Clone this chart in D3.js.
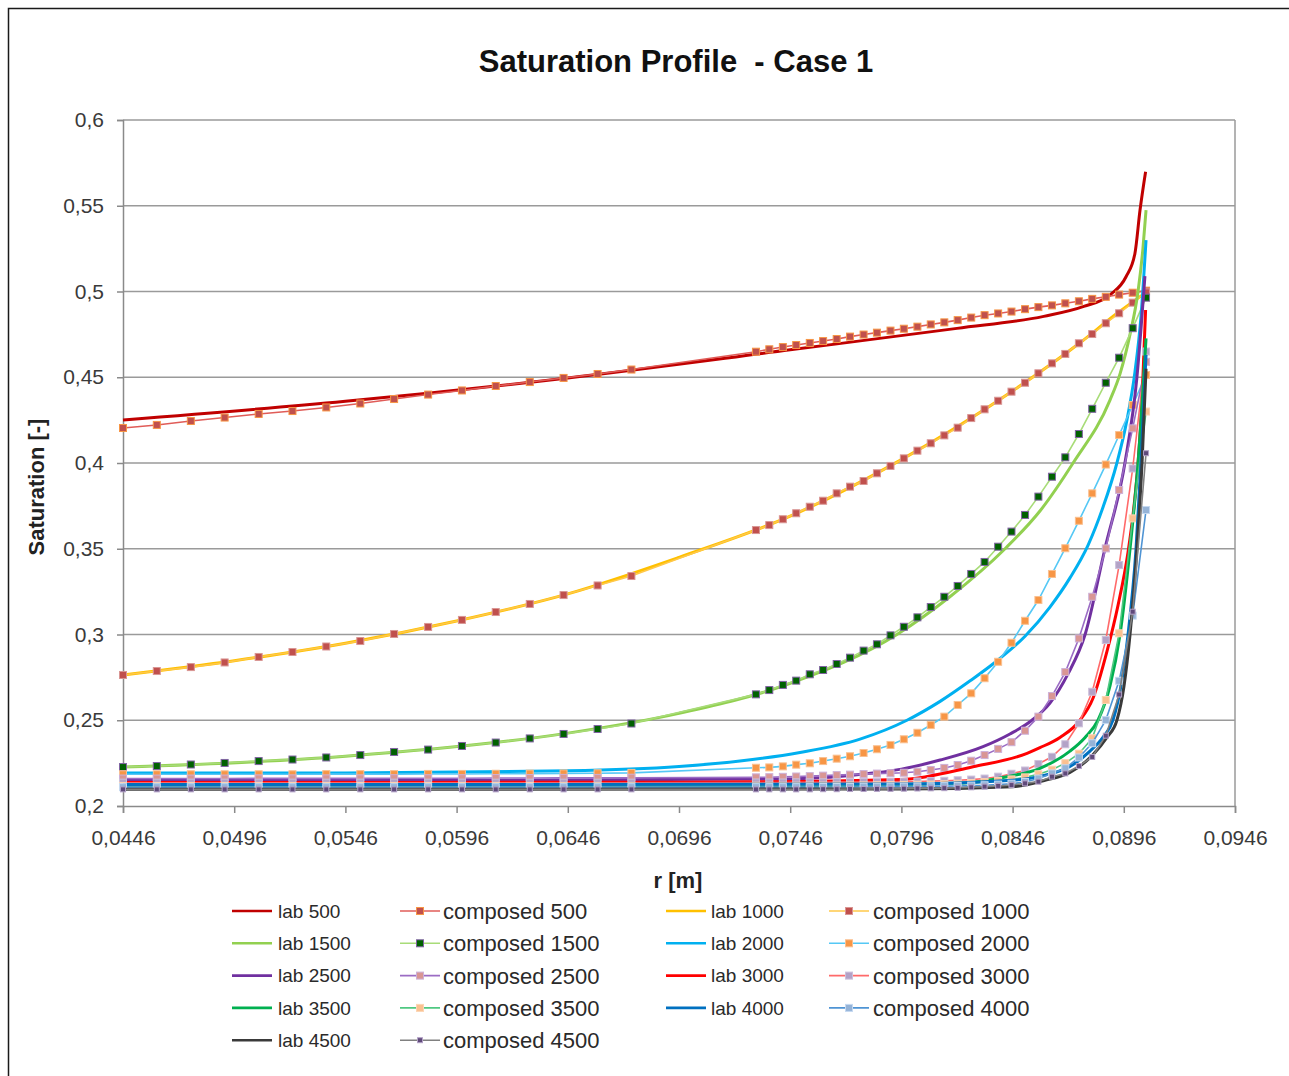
<!DOCTYPE html>
<html>
<head>
<meta charset="utf-8">
<script src="https://cdn.jsdelivr.net/npm/d3@7"></script>
<style>
body { margin: 0; background: #fff; }
svg text { font-family: "Liberation Sans", Arial, sans-serif; }
</style>
</head>
<body>
<div id="chart"></div>
<script>
// radius grid of the composed model (coarse part, then dense part near the wall)
const rCoarse = [0.04460, 0.04612, 0.04765, 0.04917, 0.05070, 0.05222, 0.05374, 0.05527,
    0.05679, 0.05832, 0.05984, 0.06136, 0.06289, 0.06441, 0.06594, 0.06746]
const rDense = [0.07306, 0.07366, 0.07427, 0.07487, 0.07548, 0.07608, 0.07669, 0.07729,
    0.07790, 0.07850, 0.07911, 0.07971, 0.08032, 0.08092, 0.08153, 0.08213, 0.08274, 0.08334,
    0.08395, 0.08455, 0.08516, 0.08576, 0.08637, 0.08697, 0.08758, 0.08818, 0.08879, 0.08939,
    0.09000, 0.09060]

const composed500 = [0.4204, 0.4222, 0.4245, 0.4265, 0.4286, 0.4303, 0.4324, 0.4347, 0.4373, 0.4399, 0.4423, 0.4449, 0.4472, 0.4496, 0.4519, 0.4545,
    0.4649, 0.4663, 0.4676, 0.4688, 0.4700, 0.4711, 0.4723, 0.4737, 0.4749, 0.4760, 0.4772, 0.4783, 0.4795, 0.4808, 0.4820,
    0.4833, 0.4848, 0.4862, 0.4872, 0.4883, 0.4897, 0.4909, 0.4919, 0.4931, 0.4943, 0.4957, 0.4969, 0.4982, 0.4993, 0.5005]
const composed1000 = [0.2764, 0.2787, 0.2810, 0.2837, 0.2869, 0.2898, 0.2930, 0.2962, 0.3003, 0.3044, 0.3085, 0.3131, 0.3178, 0.3230, 0.3286, 0.3341,
    0.3609, 0.3638, 0.3672, 0.3707, 0.3745, 0.3780, 0.3823, 0.3862, 0.3895, 0.3940, 0.3983, 0.4027, 0.4072, 0.4115, 0.4161,
    0.4206, 0.4262, 0.4313, 0.4363, 0.4416, 0.4468, 0.4523, 0.4581, 0.4636, 0.4698, 0.4752, 0.4815, 0.4873, 0.4935, 0.4995]
const composed1500 = [0.2227, 0.2233, 0.2242, 0.2251, 0.2262, 0.2271, 0.2283, 0.2297, 0.2315, 0.2329, 0.2350, 0.2370, 0.2394, 0.2420, 0.2449, 0.2481,
    0.2651, 0.2676, 0.2706, 0.2731, 0.2768, 0.2793, 0.2828, 0.2865, 0.2906, 0.2943, 0.2995, 0.3045, 0.3100, 0.3160, 0.3220,
    0.3283, 0.3353, 0.3423, 0.3512, 0.3600, 0.3697, 0.3804, 0.3920, 0.4033, 0.4169, 0.4316, 0.4468, 0.4614, 0.4786, 0.4964]
const composed2000 = [0.2185, 0.2185, 0.2185, 0.2185, 0.2185, 0.2185, 0.2186, 0.2186, 0.2186, 0.2187, 0.2187, 0.2188, 0.2189, 0.2190, 0.2191, 0.2193,
    0.2223, 0.2225, 0.2231, 0.2241, 0.2249, 0.2262, 0.2276, 0.2290, 0.2309, 0.2331, 0.2356, 0.2389, 0.2427, 0.2472, 0.2521,
    0.2589, 0.2657, 0.2745, 0.2841, 0.2952, 0.3080, 0.3201, 0.3353, 0.3503, 0.3663, 0.3823, 0.3991, 0.4163, 0.4338, 0.4513]
const composed2500 = [0.2160, 0.2160, 0.2160, 0.2160, 0.2161, 0.2161, 0.2161, 0.2161, 0.2162, 0.2162, 0.2162, 0.2163, 0.2163, 0.2164, 0.2164, 0.2165,
    0.2167, 0.2168, 0.2170, 0.2172, 0.2174, 0.2177, 0.2180, 0.2183, 0.2186, 0.2189, 0.2191, 0.2194, 0.2200, 0.2210, 0.2222,
    0.2239, 0.2264, 0.2297, 0.2333, 0.2372, 0.2439, 0.2521, 0.2641, 0.2781, 0.2977, 0.3220, 0.3502, 0.3843, 0.4202, 0.4590]
const composed3000 = [0.2136, 0.2136, 0.2136, 0.2136, 0.2136, 0.2136, 0.2136, 0.2136, 0.2136, 0.2136, 0.2136, 0.2136, 0.2136, 0.2136, 0.2136, 0.2136,
    0.2137, 0.2137, 0.2137, 0.2138, 0.2138, 0.2138, 0.2139, 0.2139, 0.2140, 0.2140, 0.2141, 0.2142, 0.2143, 0.2145, 0.2147,
    0.2150, 0.2154, 0.2160, 0.2171, 0.2188, 0.2207, 0.2245, 0.2287, 0.2360, 0.2482, 0.2666, 0.2968, 0.3405, 0.3968, 0.4650]
const composed3500 = [0.2117, 0.2117, 0.2117, 0.2117, 0.2117, 0.2117, 0.2117, 0.2117, 0.2117, 0.2117, 0.2117, 0.2117, 0.2117, 0.2117, 0.2117, 0.2117,
    0.2118, 0.2118, 0.2118, 0.2118, 0.2119, 0.2119, 0.2119, 0.2120, 0.2120, 0.2121, 0.2122, 0.2123, 0.2124, 0.2125, 0.2127,
    0.2130, 0.2134, 0.2139, 0.2146, 0.2155, 0.2167, 0.2185, 0.2212, 0.2250, 0.2305, 0.2395, 0.2618, 0.3007, 0.3677, 0.4300]
const composed4000 = [0.2110, 0.2110, 0.2110, 0.2110, 0.2110, 0.2110, 0.2110, 0.2110, 0.2110, 0.2110, 0.2110, 0.2110, 0.2110, 0.2110, 0.2110, 0.2110,
    0.2110, 0.2110, 0.2110, 0.2110, 0.2110, 0.2111, 0.2111, 0.2111, 0.2112, 0.2112, 0.2113, 0.2113, 0.2114, 0.2115, 0.2116,
    0.2117, 0.2119, 0.2121, 0.2125, 0.2130, 0.2140, 0.2160, 0.2190, 0.2220, 0.2283, 0.2366, 0.2501, 0.2730, 0.3110, 0.3726]
const composed4500 = [0.2097, 0.2097, 0.2097, 0.2097, 0.2097, 0.2097, 0.2097, 0.2097, 0.2097, 0.2097, 0.2097, 0.2097, 0.2097, 0.2097, 0.2097, 0.2097,
    0.2097, 0.2097, 0.2097, 0.2097, 0.2097, 0.2098, 0.2098, 0.2099, 0.2099, 0.2100, 0.2100, 0.2101, 0.2102, 0.2103, 0.2104,
    0.2106, 0.2109, 0.2113, 0.2117, 0.2122, 0.2132, 0.2142, 0.2171, 0.2190, 0.2233, 0.2286, 0.2410, 0.2650, 0.3133, 0.4057]

// lab curves: [r, saturation]
const lab500 = [[0.0446, 0.4251], [0.0546, 0.4360], [0.0646, 0.4496], [0.0746, 0.4660], [0.0821, 0.4785], [0.0860, 0.4855],
    [0.0878, 0.4913], [0.0890, 0.4982], [0.0897, 0.5086], [0.0901, 0.5222], [0.09033, 0.5475], [0.09058, 0.5698]]
const lab1000 = [[0.0446, 0.2764], [0.0496, 0.2847], [0.0546, 0.2949], [0.0596, 0.3079], [0.0646, 0.3237], [0.0696, 0.3450],
    [0.0746, 0.3690], [0.0796, 0.4020], [0.0846, 0.4420], [0.0876, 0.4698], [0.0893, 0.4873], [0.0906, 0.4995]]
const lab1500 = [[0.0446, 0.2227], [0.0546, 0.2290], [0.0646, 0.2425], [0.0696, 0.2540], [0.0746, 0.2715], [0.0794, 0.3000],
    [0.08178, 0.3220], [0.08426, 0.3500], [0.08583, 0.3720], [0.08732, 0.4000], [0.08898, 0.4367], [0.08943, 0.4520],
    [0.08988, 0.4750], [0.09024, 0.5000], [0.09046, 0.5250], [0.0906, 0.5475]]
const lab2000 = [[0.0446, 0.2192], [0.0546, 0.2193], [0.0646, 0.2205], [0.0696, 0.2230], [0.07234, 0.2262], [0.07504, 0.2312],
    [0.07774, 0.2390], [0.07985, 0.2500], [0.08134, 0.2610], [0.08269, 0.2730], [0.08403, 0.2860], [0.08516, 0.2990],
    [0.08628, 0.3160], [0.08718, 0.3330], [0.08799, 0.3520], [0.08866, 0.3740], [0.08929, 0.4000], [0.08974, 0.4250],
    [0.0901, 0.4530], [0.09037, 0.4850], [0.0906, 0.5300]]
const lab2500 = [[0.0446, 0.2150], [0.0646, 0.2151], [0.0746, 0.2158], [0.07832, 0.2192], [0.0796, 0.2215], [0.08134, 0.2268],
    [0.08327, 0.2346], [0.08448, 0.2420], [0.08547, 0.2500], [0.08628, 0.2600], [0.08709, 0.2770], [0.08786, 0.3000],
    [0.08875, 0.3500], [0.08965, 0.4000], [0.09019, 0.4500], [0.09055, 0.5090]]
const lab3000 = [[0.0446, 0.2137], [0.0696, 0.2139], [0.0796, 0.2155], [0.08282, 0.2229], [0.08525, 0.2307], [0.08583, 0.2340],
    [0.08673, 0.2400], [0.08763, 0.2500], [0.08822, 0.2630], [0.08884, 0.2900], [0.08934, 0.3170], [0.08979, 0.3480],
    [0.09006, 0.3750], [0.09024, 0.4000], [0.09042, 0.4370], [0.09058, 0.4892]]
const lab3500 = [[0.0446, 0.2115], [0.0746, 0.2117], [0.0821, 0.2132], [0.08435, 0.2171], [0.08583, 0.2220], [0.08718, 0.2320],
    [0.08786, 0.2400], [0.08844, 0.2500], [0.08898, 0.2700], [0.08943, 0.3000], [0.08988, 0.3500], [0.09024, 0.4000],
    [0.0906, 0.4727]]
const lab4000 = [[0.0446, 0.2125], [0.0796, 0.2128], [0.0846, 0.2150], [0.08606, 0.2180], [0.08718, 0.2230], [0.08808, 0.2320],
    [0.08866, 0.2400], [0.08911, 0.2500], [0.08947, 0.2700], [0.08979, 0.3000], [0.09015, 0.3500], [0.09037, 0.4000],
    [0.0906, 0.4630]]
const lab4500 = [[0.0446, 0.2097], [0.0796, 0.2099], [0.0846, 0.2112], [0.08606, 0.2150], [0.08718, 0.2195], [0.08822, 0.2300],
    [0.08884, 0.2400], [0.08929, 0.2500], [0.08961, 0.2700], [0.08988, 0.3000], [0.09019, 0.3500], [0.09042, 0.4000],
    [0.0906, 0.4550]]

const xTicks = [0.0446, 0.0496, 0.0546, 0.0596, 0.0646, 0.0696, 0.0746, 0.0796, 0.0846, 0.0896, 0.0946]
const yTicks = [0.2, 0.25, 0.3, 0.35, 0.4, 0.45, 0.5, 0.55, 0.6]

const rComposed = rCoarse.concat(rDense)
const pair = vals => vals.map((v, i) => [rComposed[i], v])

// legend order (row by row, 4 per row)
const series = [
    { name: "lab 500", data: lab500 },
    { name: "composed 500", data: pair(composed500) },
    { name: "lab 1000", data: lab1000 },
    { name: "composed 1000", data: pair(composed1000) },
    { name: "lab 1500", data: lab1500 },
    { name: "composed 1500", data: pair(composed1500) },
    { name: "lab 2000", data: lab2000 },
    { name: "composed 2000", data: pair(composed2000) },
    { name: "lab 2500", data: lab2500 },
    { name: "composed 2500", data: pair(composed2500) },
    { name: "lab 3000", data: lab3000 },
    { name: "composed 3000", data: pair(composed3000) },
    { name: "lab 3500", data: lab3500 },
    { name: "composed 3500", data: pair(composed3500) },
    { name: "lab 4000", data: lab4000 },
    { name: "composed 4000", data: pair(composed4000) },
    { name: "lab 4500", data: lab4500 },
    { name: "composed 4500", data: pair(composed4500) },
]

const styles = {
    "lab 500": { line: "#c00000" },
    "composed 500": { line: "#e05c58", fill: "#c0504d", edge: "#f79646" },
    "lab 1000": { line: "#ffc000" },
    "composed 1000": { line: "#ffc84a", fill: "#c0504d", edge: "#d99694" },
    "lab 1500": { line: "#92d050" },
    "composed 1500": { line: "#a8dc78", fill: "#006100", edge: "#8064a2" },
    "lab 2000": { line: "#00b0f0" },
    "composed 2000": { line: "#55c8f5", fill: "#f79646", edge: "#fac090" },
    "lab 2500": { line: "#7030a0" },
    "composed 2500": { line: "#9b6cc4", fill: "#d99694", edge: "#cdb0d8" },
    "lab 3000": { line: "#ff0000" },
    "composed 3000": { line: "#ff6a6a", fill: "#b3a2c7", edge: "#ccc0da" },
    "lab 3500": { line: "#00b050" },
    "composed 3500": { line: "#50c882", fill: "#fac090", edge: "#fcd5b4" },
    "lab 4000": { line: "#0070c0" },
    "composed 4000": { line: "#4f94d4", fill: "#95b3d7", edge: "#c5d9f1" },
    "lab 4500": { line: "#3a3a3a" },
    "composed 4500": { line: "#808080", fill: "#5f497a", edge: "#b3a2c7", size: 5 },
}

const config = {
    width: 1289, height: 1076,
    margin: { left: 123, right: 54, top: 120, bottom: 270 },
}
const width = config.width - config.margin.left - config.margin.right
const height = config.height - config.margin.top - config.margin.bottom

const x = d3.scaleLinear().domain([0.0446, 0.0946]).range([0, width])
const y = d3.scaleLinear().domain([0.2, 0.6]).range([height, 0])
const comma = d => d.toString().replace(".", ",")

const root = d3.select("#chart").append("svg")
    .attr("width", config.width)
    .attr("height", config.height)

// outer frame (only top and left edges visible)
root.append("path")
    .attr("d", `M8.5,${config.height} V8.5 H${config.width}`)
    .attr("fill", "none")
    .attr("stroke", "#1a1a1a")
    .attr("stroke-width", 1.5)

root.append("text")
    .attr("x", 676).attr("y", 72)
    .attr("text-anchor", "middle")
    .style("font-size", "31px").style("font-weight", "bold")
    .style("white-space", "pre")
    .attr("fill", "#111")
    .text("Saturation Profile  - Case 1")

const svg = root.append("g")
    .attr("transform", `translate(${config.margin.left}, ${config.margin.top})`)

/* GRID */
svg.append("g")
    .selectAll("line")
    .data(yTicks.slice(1))
    .join("line")
    .attr("x1", 0).attr("x2", width)
    .attr("y1", d => y(d)).attr("y2", d => y(d))
    .attr("stroke", "#9a9a9a")
    .attr("stroke-width", 1.5)

svg.append("line")
    .attr("x1", width).attr("x2", width)
    .attr("y1", 0).attr("y2", height)
    .attr("stroke", "#9a9a9a").attr("stroke-width", 1.5)

/* AXES */
const xAxis = svg.append("g")
    .attr("transform", `translate(0, ${height})`)
    .call(d3.axisBottom(x).tickValues(xTicks).tickFormat(comma).tickSize(7).tickPadding(17))
const yAxis = svg.append("g")
    .call(d3.axisLeft(y).tickValues(yTicks).tickFormat(comma).tickSize(6).tickPadding(13))

for (const ax of [xAxis, yAxis]) {
    ax.select(".domain").attr("stroke", "#8a8a8a").attr("stroke-width", 1.5)
    ax.selectAll(".tick line").attr("stroke", "#8a8a8a").attr("stroke-width", 1.5)
    ax.selectAll(".tick text")
        .style("font-size", "21px")
        .style("font-family", "'Liberation Sans', Arial, sans-serif")
        .attr("fill", "#3a3a3a")
}

root.append("text")
    .attr("transform", "translate(44, 487) rotate(-90)")
    .attr("text-anchor", "middle")
    .style("font-size", "22px").style("font-weight", "bold")
    .attr("fill", "#222")
    .text("Saturation [-]")

root.append("text")
    .attr("x", 678).attr("y", 888)
    .attr("text-anchor", "middle")
    .style("font-size", "22px").style("font-weight", "bold")
    .attr("fill", "#222")
    .text("r [m]")

/* SERIES */
const labLine = d3.line().x(d => x(d[0])).y(d => y(d[1])).curve(d3.curveMonotoneX)
const compLine = d3.line().x(d => x(d[0])).y(d => y(d[1]))

series.forEach(s => {
    const st = styles[s.name]
    const isLab = s.name.startsWith("lab")
    svg.append("path")
        .datum(s.data)
        .attr("fill", "none")
        .attr("stroke", st.line)
        .attr("stroke-width", isLab ? 3 : 1.6)
        .attr("d", isLab ? labLine(s.data) : compLine(s.data))
    if (!isLab) {
        const size = st.size || 7
        svg.append("g")
            .selectAll("rect")
            .data(s.data)
            .join("rect")
            .attr("x", d => x(d[0]) - size / 2)
            .attr("y", d => y(d[1]) - size / 2)
            .attr("width", size).attr("height", size)
            .attr("fill", st.fill)
            .attr("stroke", st.edge)
            .attr("stroke-width", 1)
    }
})

/* LEGEND */
const legCols = [
    { line: 232, text: 278 },
    { line: 400, text: 443 },
    { line: 666, text: 711 },
    { line: 829, text: 873 },
]
const legend = root.append("g")
series.forEach((s, i) => {
    const st = styles[s.name]
    const isLab = s.name.startsWith("lab")
    const col = legCols[i % 4]
    const cy = 911 + Math.floor(i / 4) * 32.3
    legend.append("line")
        .attr("x1", col.line).attr("x2", col.line + 40)
        .attr("y1", cy).attr("y2", cy)
        .attr("stroke", st.line)
        .attr("stroke-width", isLab ? 2.6 : 1.6)
    if (!isLab) {
        const size = st.size || 7
        legend.append("rect")
            .attr("x", col.line + 20 - size / 2).attr("y", cy - size / 2)
            .attr("width", size).attr("height", size)
            .attr("fill", st.fill).attr("stroke", st.edge)
    }
    legend.append("text")
        .attr("x", col.text).attr("y", cy)
        .attr("dy", "0.36em")
        .style("font-size", isLab ? "19px" : "22px")
        .attr("fill", "#2a2a2a")
        .text(s.name)
})
</script>
</body>
</html>
